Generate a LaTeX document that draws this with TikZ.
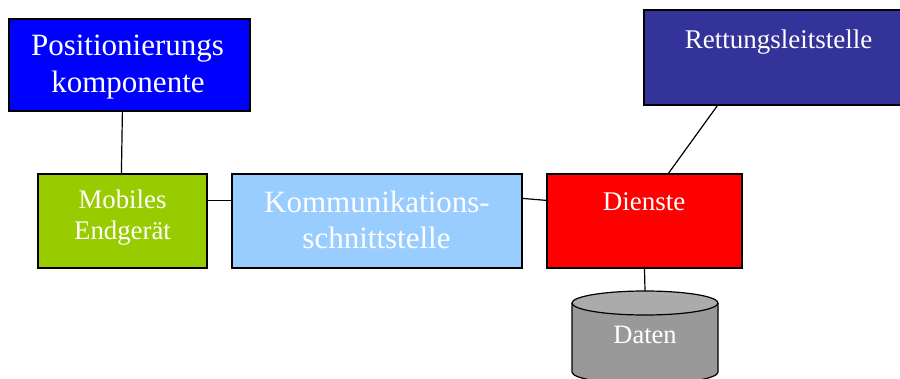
\documentclass[tikz,border=0pt]{standalone}
\usepackage{fontspec}
\setmainfont{Liberation Serif}
\usetikzlibrary{calc}
\definecolor{posblue}{HTML}{0000FF}
\definecolor{mobgreen}{HTML}{99CC00}
\definecolor{kommblue}{HTML}{99CCFF}
\definecolor{rettblue}{HTML}{333399}
\definecolor{dgray}{HTML}{999999}
\definecolor{lgray}{HTML}{ABABAB}
\begin{document}
\begin{tikzpicture}[x=1pt,y=-1pt,
  box/.style={draw=black,line width=1.2pt,inner sep=0pt},
  lbl/.style={text=white,anchor=base,inner sep=0pt},
  conn/.style={draw=black,line width=1.2pt}]
\useasboundingbox (0,0) rectangle (900,378);
\clip (0,0) rectangle (900,378);
% boxes
\node[box,fill=posblue,minimum width=241pt,minimum height=92pt] (pos) at (129.5,65) {};
\node[box,fill=mobgreen,minimum width=169pt,minimum height=94pt] (mob) at (122.5,221) {};
\node[box,fill=kommblue,minimum width=290pt,minimum height=94pt] (komm) at (377,221) {};
\node[box,fill=red,minimum width=195pt,minimum height=94pt] (dien) at (644.5,221) {};
\node[box,fill=rettblue,minimum width=261pt,minimum height=95pt] (rett) at (774.5,57.5) {};
% cylinder
\coordinate (dtop) at (645,291);
\filldraw[fill=dgray,draw=black,line width=1.2pt] (572,303) -- (572,372) arc[start angle=180,end angle=0,x radius=73,y radius=12] -- (718,303);
\filldraw[fill=lgray,draw=black,line width=1.2pt] (645,303) ellipse [x radius=73,y radius=12];
% texts
\node[lbl,font=\fontsize{31}{37}\selectfont] (pos1) at (127.5,55) {Positionierungs};
\node[lbl,font=\fontsize{31}{37}\selectfont] (pos2) at (128,92) {komponente};
\node[lbl,font=\fontsize{26.8}{31}\selectfont] (mob1) at (122.5,208) {Mobiles};
\node[lbl,font=\fontsize{26.8}{31}\selectfont] (mob2) at (122.5,239) {Endgerät};
\node[lbl,font=\fontsize{31}{37}\selectfont] (komm1) at (377,212) {Kommunikations-};
\node[lbl,font=\fontsize{31}{37}\selectfont] (komm2) at (376.5,248) {schnittstelle};
\node[lbl,font=\fontsize{27}{32}\selectfont] (dien1) at (644,210) {Dienste};
\node[lbl,font=\fontsize{27}{32}\selectfont] (rett1) at (778.5,48) {Rettungsleitstelle};
\node[lbl,font=\fontsize{26.5}{32}\selectfont] (dat1) at (645,343) {Daten};
% connectors
\draw[conn] ($(pos.south west)+(114,0)$) -- ($(mob.north west)+(84,0)$);
\draw[conn] ($(mob.north east)+(0,27)$) -- ($(komm.north west)+(0,27)$);
\draw[conn] ($(komm.north east)+(0,25)$) -- ($(dien.north west)+(0,27)$);
\draw[conn] ($(rett.south west)+(74,0)$) -- ($(dien.north west)+(122,0)$);
\draw[conn] (dien.south) -- (dtop);
\end{tikzpicture}
\end{document}
